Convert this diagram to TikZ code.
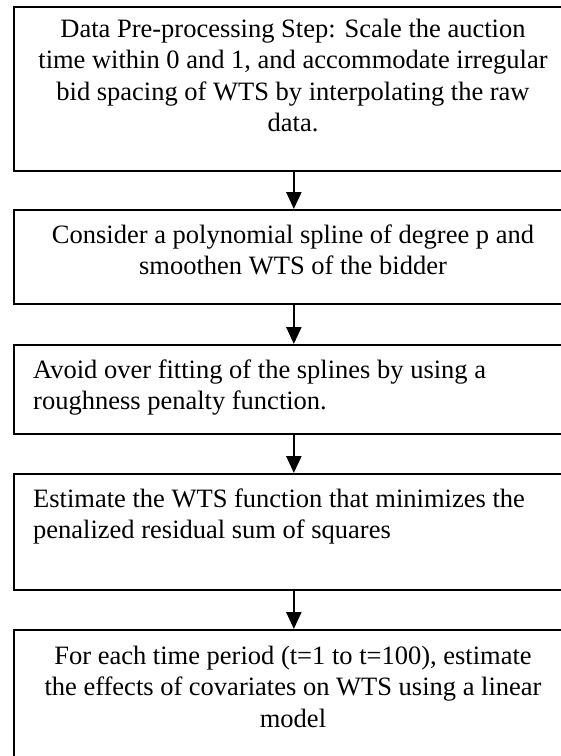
\documentclass[tikz,border=0pt]{standalone}
\usepackage{fontspec}
\setmainfont{Liberation Serif}
\usetikzlibrary{arrows.meta}
\begin{document}
\begin{tikzpicture}[x=1pt,y=-1pt,
  stepbox/.style={draw=black, line width=1.7pt, rectangle, inner sep=0pt, anchor=north west, minimum width=560pt},
  ctext/.style={anchor=north, inner sep=0pt, align=center, font=\fontsize{26.5}{31.5}\selectfont},
  ltext/.style={anchor=north west, inner sep=0pt, align=left, font=\fontsize{26.5}{31.5}\selectfont},
  flow/.style={line width=2.4pt, -{Triangle[length=17pt,width=15pt]}}]
\useasboundingbox (0,0) rectangle (561,756);
\clip (0,0) rectangle (561,756);
\node[stepbox, minimum height=164pt] (b1) at (13,6) {};
\node[stepbox, minimum height=94pt] (b2) at (13,209) {};
\node[stepbox, minimum height=89pt] (b3) at (13,344) {};
\node[stepbox, minimum height=116pt] (b4) at (13,473) {};
\node[stepbox, minimum height=164pt] (b5) at (13,629) {};
\node[ctext] (t1) at (293,15) {\strut Data Pre-processing Step: Scale the auction\\ time within 0 and 1, and accommodate irregular\\ bid spacing of WTS by interpolating the raw\\ data.};
\node[ctext] (t2) at (293,221) {\strut Consider a polynomial spline of degree p and\\ smoothen WTS of the bidder};
\node[ltext] (t3) at (33,356) {\strut Avoid over fitting of the splines by using a\\ roughness penalty function.};
\node[ltext] (t4) at (33,485) {\strut Estimate the WTS function that minimizes the\\ penalized residual sum of squares};
\node[ctext] (t5) at (293,642) {\strut For each time period (t=1 to t=100), estimate\\ the effects of covariates on WTS using a linear\\ model};
\draw[flow] (b1.south) -- (b2.north);
\draw[flow] (b2.south) -- (b3.north);
\draw[flow] (b3.south) -- (b4.north);
\draw[flow] (b4.south) -- (b5.north);
\end{tikzpicture}
\end{document}
